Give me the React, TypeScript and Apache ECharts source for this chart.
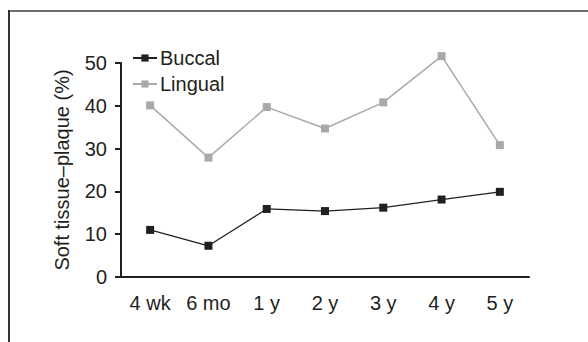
import React, { useEffect, useRef } from "react";
import * as echarts from "echarts";

const categories = ["4 wk", "6 mo", "1 y", "2 y", "3 y", "4 y", "5 y"];
const buccal = [11.0, 7.3, 15.9, 15.4, 16.2, 18.1, 19.9];
const lingual = [40.1, 27.9, 39.7, 34.7, 40.8, 51.6, 30.8];
const seriesNames = ["Buccal", "Lingual"];
const yAxisName = "Soft tissue\u2013plaque (%)";

const FONT = "Liberation Sans, Arial, sans-serif";
const DARK = "#231f20";
const GRAY = "#a7a9ac";

export default function App() {
  const ref = useRef<HTMLDivElement>(null);
  useEffect(() => {
    if (!ref.current) return;
    const chart = echarts.init(ref.current, undefined, { renderer: "svg" });
    chart.setOption({
      animation: false,
      backgroundColor: "#ffffff",
      textStyle: { fontFamily: FONT },
      grid: { left: 121, right: 59, top: 63, bottom: 65, containLabel: false },
      legend: {
        orient: "vertical",
        left: 127,
        top: 43,
        itemGap: 6,
        itemWidth: 24,
        itemHeight: 9,
        data: seriesNames,
        textStyle: { fontSize: 20, color: DARK, fontFamily: FONT, padding: [0, 0, 0, -2] },
      },
      xAxis: {
        type: "category",
        data: categories,
        boundaryGap: true,
        axisLine: { lineStyle: { color: DARK, width: 2 } },
        axisTick: { alignWithLabel: true, length: 8, lineStyle: { color: DARK, width: 2 } },
        axisLabel: { fontSize: 20, color: DARK, margin: 16, fontFamily: FONT },
        splitLine: { show: false },
      },
      yAxis: {
        type: "value",
        min: 0,
        max: 50,
        interval: 10,
        name: yAxisName,
        nameLocation: "middle",
        nameGap: 49,
        nameTextStyle: { fontSize: 20, color: DARK, fontFamily: FONT },
        axisLine: { show: true, lineStyle: { color: DARK, width: 2 } },
        axisTick: { show: true, length: 6, lineStyle: { color: DARK, width: 2 } },
        axisLabel: { fontSize: 20, color: DARK, margin: 14, fontFamily: FONT },
        splitLine: { show: false },
      },
      series: [
        {
          name: seriesNames[0],
          type: "line",
          data: buccal,
          clip: false,
          symbol: "rect",
          symbolSize: 8,
          itemStyle: { color: DARK },
          lineStyle: { color: DARK, width: 1.3 },
        },
        {
          name: seriesNames[1],
          type: "line",
          data: lingual,
          clip: false,
          symbol: "rect",
          symbolSize: 8,
          itemStyle: { color: GRAY },
          lineStyle: { color: GRAY, width: 1.5 },
        },
      ],
      graphic: [
        {
          type: "line",
          shape: { x1: 8, y1: 11, x2: 588, y2: 11 },
          style: { stroke: "#6e6e6e", lineWidth: 2 },
        },
        {
          type: "line",
          shape: { x1: 9, y1: 10, x2: 9, y2: 342 },
          style: { stroke: "#333333", lineWidth: 2 },
        },
      ],
    });
    return () => chart.dispose();
  }, []);
  return (
    <div
      ref={ref}
      style={{ position: "fixed", left: 0, top: 0, width: 588, height: 342 }}
    />
  );
}
